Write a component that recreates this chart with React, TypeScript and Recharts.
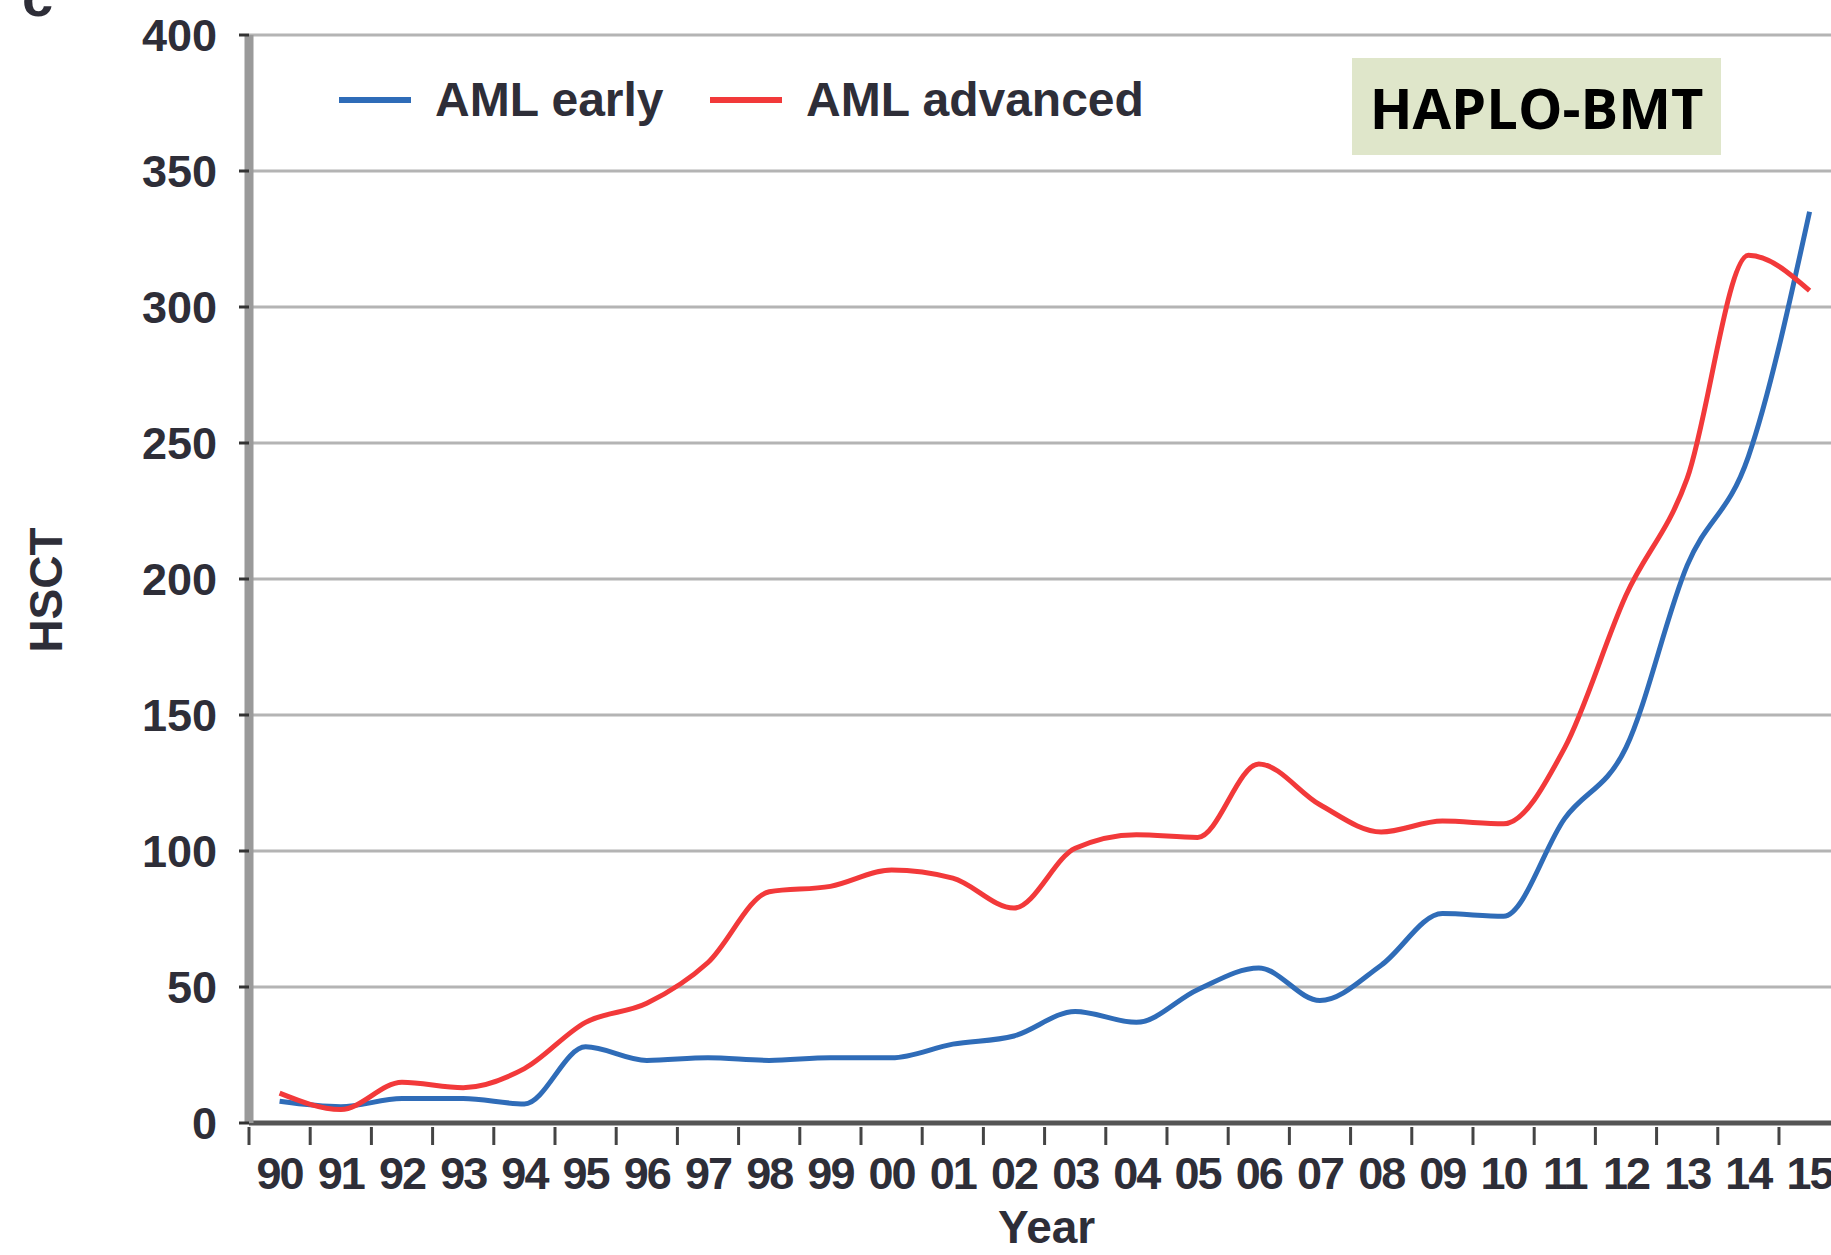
import { LineChart, Line, XAxis, YAxis, CartesianGrid } from "recharts";

const years = ["90", "91", "92", "93", "94", "95", "96", "97", "98", "99", "00", "01", "02", "03", "04", "05", "06", "07", "08", "09", "10", "11", "12", "13", "14", "15"];
const amlEarly = [8, 6, 9, 9, 7, 28, 23, 24, 23, 24, 24, 29, 32, 41, 37, 49, 57, 45, 58, 77, 76, 112, 138, 205, 245, 335];
const amlAdvanced = [11, 5, 15, 13, 20, 37, 44, 59, 85, 87, 93, 90, 79, 101, 106, 105, 132, 117, 107, 111, 110, 138, 194, 237, 319, 306];
const yTicks = [0, 50, 100, 150, 200, 250, 300, 350, 400];

const data = years.map((label, i) => ({
  x: i,
  label,
  early: amlEarly[i],
  advanced: amlAdvanced[i],
}));

const FONT = "'Liberation Sans', Arial, sans-serif";
const TEXT = "#2e2e38";
const BLUE = "#2f6cb8";
const RED = "#f2393a";
const X_MIN = -0.5;
const X_MAX = 25.35;
const PLOT_W = 1831 - 249;
const STEP = PLOT_W / (X_MAX - X_MIN);

function YearTick({ x, y, payload }: any) {
  const i = payload.value as number;
  return (
    <g>
      <line x1={x - STEP / 2} x2={x - STEP / 2} y1={y - 4} y2={y + 14} stroke="#444" strokeWidth={3} />
      <text
        x={x}
        y={y + 58}
        textAnchor="middle"
        fontFamily={FONT}
        fontWeight="bold"
        fontSize={45}
        fill={TEXT}
        letterSpacing={-2}
      >
        {years[i]}
      </text>
    </g>
  );
}

function LegendItem({ color, label, width }: { color: string; label: string; width: number }) {
  return (
    <div style={{ display: "flex", alignItems: "center", width }}>
      <div style={{ width: 72, height: 6, background: color, marginRight: 24 }} />
      <span style={{ fontFamily: FONT, fontWeight: "bold", fontSize: 48, color: TEXT, whiteSpace: "nowrap" }}>{label}</span>
    </div>
  );
}

export default function App() {
  return (
    <div style={{ position: "absolute", left: 0, top: 0, width: 1831, height: 1255, background: "#fff", overflow: "hidden" }}>
      <LineChart width={1831} height={1255} data={data} margin={{ top: 35, right: 0, left: 0, bottom: 0 }}>
        <CartesianGrid horizontal vertical={false} stroke="#b4b4b4" strokeWidth={3} />
        <XAxis
          type="number"
          dataKey="x"
          domain={[X_MIN, X_MAX]}
          ticks={years.map((_, i) => i)}
          allowDataOverflow
          height={132}
          axisLine={{ stroke: "#555", strokeWidth: 5 }}
          tickLine={false}
          tick={<YearTick />}
          interval={0}
        />
        <YAxis
          domain={[0, 400]}
          ticks={yTicks}
          width={249}
          axisLine={{ stroke: "#9a9a9a", strokeWidth: 9 }}
          tickLine={{ stroke: "#333", strokeWidth: 3 }}
          tickSize={10}
          tickMargin={22}
          tick={{ fontFamily: FONT, fontWeight: "bold", fontSize: 45, fill: TEXT }}
        />
        <Line type="monotone" dataKey="early" stroke={BLUE} strokeWidth={5} dot={false} isAnimationActive={false} />
        <Line type="monotone" dataKey="advanced" stroke={RED} strokeWidth={5} dot={false} isAnimationActive={false} />
      </LineChart>
      <div style={{ position: "absolute", left: 339, top: 72, display: "flex" }}>
        <LegendItem color={BLUE} label="AML early" width={371} />
        <LegendItem color={RED} label="AML advanced" width={460} />
      </div>
      <div
        style={{
          position: "absolute",
          left: 1352,
          top: 58,
          width: 369,
          height: 97,
          background: "#dfe6ca",
          display: "flex",
          alignItems: "center",
          justifyContent: "center",
          fontFamily: "'Open Sans', 'Noto Sans', sans-serif",
          fontWeight: "bold",
          fontSize: 56,
          color: "#000",
        }}
      >
        HAPLO-BMT
      </div>
      <div
        style={{
          position: "absolute",
          left: 46,
          top: 590,
          transform: "translate(-50%, -50%) rotate(-90deg)",
          fontFamily: FONT,
          fontWeight: "bold",
          fontSize: 46,
          color: TEXT,
        }}
      >
        HSCT
      </div>
      <div
        style={{
          position: "absolute",
          left: 998,
          top: 1200,
          fontFamily: FONT,
          fontWeight: "bold",
          fontSize: 46,
          color: TEXT,
        }}
      >
        Year
      </div>
      <div
        style={{
          position: "absolute",
          left: 22,
          top: -36,
          fontFamily: FONT,
          fontWeight: "bold",
          fontSize: 56,
          color: TEXT,
        }}
      >
        c
      </div>
    </div>
  );
}
